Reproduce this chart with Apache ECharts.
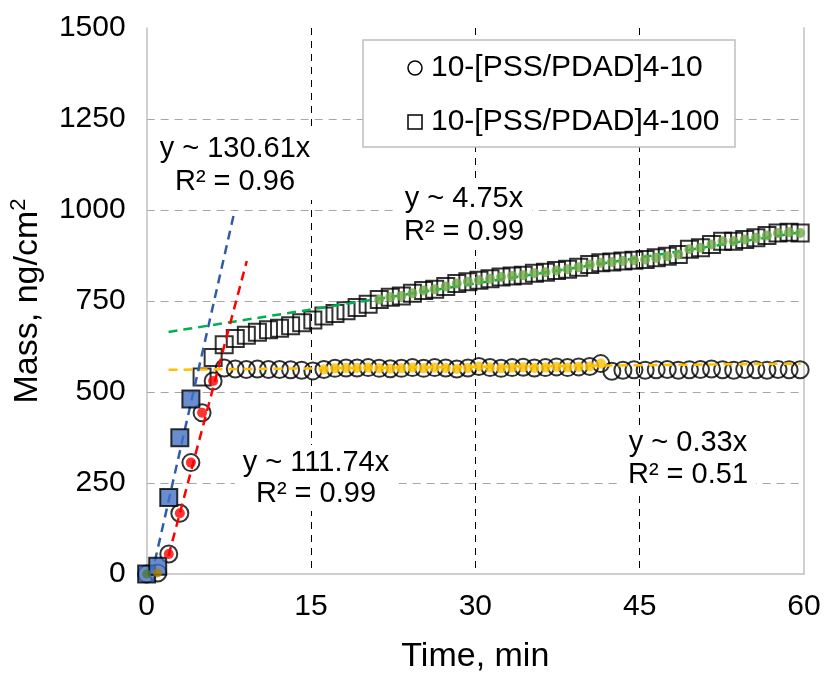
<!DOCTYPE html>
<html>
<head>
<meta charset="utf-8">
<script src="https://cdn.jsdelivr.net/npm/echarts@6/dist/echarts.min.js"></script>
<style>
html,body{margin:0;padding:0;background:#fff;}
#chart{width:825px;height:679px;}
</style>
</head>
<body>
<div id="chart"></div>
<script>
// ---- data ----
const times = [0, 1.01, 2.02, 3.03, 4.04, 5.06, 6.07, 7.08, 8.09, 9.10, 10.11, 11.12, 12.13, 13.14, 14.15, 15.17, 16.18, 17.19, 18.20, 19.21, 20.22, 21.23, 22.24, 23.25, 24.26, 25.28, 26.29, 27.30, 28.31, 29.32, 30.33, 31.34, 32.35, 33.36, 34.37, 35.39, 36.40, 37.41, 38.42, 39.43, 40.44, 41.45, 42.46, 43.47, 44.48, 45.50, 46.51, 47.52, 48.53, 49.54, 50.55, 51.56, 52.57, 53.58, 54.59, 55.61, 56.62, 57.63, 58.64, 59.65];
const mass10 = [0, 3, 55, 167, 306, 443, 530, 566, 563, 562, 563, 562, 562, 561, 560, 558, 562, 565, 566, 566, 567, 565, 564, 565, 567, 565, 567, 566, 563, 566, 570, 567, 565, 567, 568, 566, 567, 569, 567, 569, 570, 578, 557, 560, 561, 560, 561, 562, 560, 561, 562, 563, 561, 560, 562, 561, 560, 562, 561, 561];
const mass100 = [0, 21, 210, 374, 481, 541, 595, 630, 647, 656, 664, 671, 675, 682, 690, 698, 709, 716, 723, 732, 741, 754, 760, 764, 771, 779, 782, 790, 798, 803, 807, 811, 816, 819, 821, 826, 829, 834, 837, 843, 850, 855, 857, 860, 862, 864, 869, 873, 878, 892, 896, 905, 914, 914, 919, 924, 930, 937, 939, 937];
const seriesNames = ['10-[PSS/PDAD]4-10', '10-[PSS/PDAD]4-100'];
// index ranges of the points highlighted for each fit
const redFitRange = [2, 6];      // mass10 initial rise
const yellowFitRange = [16, 41]; // mass10 plateau
const blueFitRange = [0, 4];     // mass100 initial rise
const greenFitRange = [21, 59];  // mass100 slow growth
// fitted trend lines (end points)
const fitBlue = [[0.75, 35], [8.05, 1000]];
const fitRed = [[2.0, 50], [9.14, 860]];
const fitGreen = [[2.0, 665], [59.7, 939]];
const fitYellow = [[2.0, 561], [59.7, 578]];
const startDots = [[0, 0], [1.0, 3]];
const fitLabels = ['y ~ 130.61x\nR² = 0.96', 'y ~ 4.75x\nR² = 0.99', 'y ~ 111.74x\nR² = 0.99', 'y ~ 0.33x\nR² = 0.51'];
const xTicks = {min: 0, max: 60, interval: 15};
const yTicks = {min: 0, max: 1500, interval: 250};

// ---- build ----
const pts = (arr, a, b) => { const out = []; for (let i = a; i <= b; i++) out.push([times[i], arr[i]]); return out; };
const FONT = '"Liberation Sans", Arial, sans-serif';
const chart = echarts.init(document.getElementById('chart'), null, {renderer: 'canvas'});

function dashLine(data, color) {
  return {type: 'line', data: data, showSymbol: false, symbol: 'none', silent: true,
    lineStyle: {color: color, width: 2.5, type: [9, 6]}, z: 3};
}
function dots(data, color, size) {
  return {type: 'scatter', data: data, symbol: 'circle', symbolSize: size || 9, silent: true,
    itemStyle: {color: color, borderWidth: 0}, z: 5};
}
function eqText(text, x, y, lh) {
  return {type: 'text', x: x, y: y, z: 50, style: {text: text, font: '29px ' + FONT, fill: '#000',
    align: 'center', verticalAlign: 'middle', lineHeight: lh, backgroundColor: '#fff', padding: [2, 8]}};
}

const option = {
  animation: false,
  backgroundColor: '#fff',
  grid: {left: 146, right: 21, top: 28, bottom: 103},
  xAxis: {
    type: 'value', min: xTicks.min, max: xTicks.max, interval: xTicks.interval,
    name: 'Time, min', nameLocation: 'middle', nameGap: 66,
    nameTextStyle: {fontFamily: FONT, fontSize: 34, color: '#000'},
    axisLine: {show: true, lineStyle: {color: '#BFBFBF', width: 1.5}},
    axisTick: {show: false},
    axisLabel: {fontFamily: FONT, fontSize: 30, color: '#000', margin: 18},
    splitLine: {show: true, lineStyle: {color: ['rgba(0,0,0,0)', '#000', '#000', '#000', 'rgba(0,0,0,0)'], type: [7, 6], width: 1}}
  },
  yAxis: [{
    type: 'value', min: yTicks.min, max: yTicks.max, interval: yTicks.interval,
    name: 'Mass, ng/cm{sup|2}', nameLocation: 'middle', nameGap: 82,
    nameTextStyle: {fontFamily: FONT, fontSize: 34, color: '#000', lineHeight: 40,
      rich: {sup: {fontFamily: FONT, fontSize: 22, color: '#000', verticalAlign: 'top', lineHeight: 40}}},
    axisLine: {show: true, lineStyle: {color: '#BFBFBF', width: 1.5}},
    axisTick: {show: false},
    axisLabel: {fontFamily: FONT, fontSize: 30, color: '#000', margin: 21, formatter: v => String(v)},
    splitLine: {show: true, lineStyle: {color: ['rgba(0,0,0,0)', '#A6A6A6', '#A6A6A6', '#A6A6A6', '#A6A6A6', '#A6A6A6', 'rgba(0,0,0,0)'], type: [8, 6], width: 1}}
  }, {
    type: 'value', position: 'right', min: yTicks.min, max: yTicks.max, interval: yTicks.interval,
    axisLine: {show: true, lineStyle: {color: '#BFBFBF', width: 1.5}},
    axisTick: {show: false}, axisLabel: {show: false}, splitLine: {show: false}
  }],
  series: [
    {name: seriesNames[0], type: 'scatter', data: pts(mass10, 0, times.length - 1), symbol: 'circle', symbolSize: 17,
      itemStyle: {color: 'rgba(0,0,0,0)', borderColor: '#000', borderWidth: 2}, z: 2, silent: true},
    {name: seriesNames[1], type: 'scatter', data: pts(mass100, blueFitRange[1] + 1, times.length - 1), symbol: 'rect', symbolSize: 17,
      itemStyle: {color: 'rgba(0,0,0,0)', borderColor: '#000', borderWidth: 2}, z: 2, silent: true},
    dashLine(fitYellow, '#FFC000'),
    dashLine(fitGreen, '#00B050'),
    dashLine(fitBlue, '#2F5DAA'),
    dashLine(fitRed, '#FF0000'),
    {type: 'scatter', data: pts(mass100, blueFitRange[0], blueFitRange[1]), symbol: 'rect', symbolSize: 17,
      itemStyle: {color: '#4472C4', borderColor: '#000', borderWidth: 2}, z: 4, silent: true},
    dots(pts(mass10, redFitRange[0], redFitRange[1]), '#FF0000', 10),
    dots(pts(mass10, yellowFitRange[0], yellowFitRange[1]), '#FFC000', 10),
    dots(pts(mass100, greenFitRange[0], greenFitRange[1]), '#70AD47', 10),
    {type: 'scatter', data: [startDots[0]], symbol: 'circle', symbolSize: 9, itemStyle: {color: '#4E7A36'}, z: 6, silent: true},
    {type: 'scatter', data: [startDots[1]], symbol: 'circle', symbolSize: 9, itemStyle: {color: '#A97F00'}, z: 6, silent: true}
  ],
  graphic: [
    eqText(fitLabels[0], 235, 165, 33),
    eqText(fitLabels[1], 464, 215, 33),
    eqText(fitLabels[2], 316, 478, 31),
    eqText(fitLabels[3], 688, 459, 32),
    // legend
    {type: 'rect', z: 60, shape: {x: 363, y: 40, width: 372, height: 107}, style: {fill: '#fff', stroke: '#BFBFBF', lineWidth: 1.5}},
    {type: 'circle', z: 61, shape: {cx: 415, cy: 68, r: 7}, style: {fill: 'none', stroke: '#000', lineWidth: 1.5}},
    {type: 'rect', z: 61, shape: {x: 408, y: 115, width: 14, height: 14}, style: {fill: 'none', stroke: '#000', lineWidth: 1.5}},
    {type: 'text', z: 61, x: 431, y: 68, style: {text: seriesNames[0], font: '30px ' + FONT, fill: '#000', align: 'left', verticalAlign: 'middle'}},
    {type: 'text', z: 61, x: 431, y: 122, style: {text: seriesNames[1], font: '30px ' + FONT, fill: '#000', align: 'left', verticalAlign: 'middle'}}
  ]
};
chart.setOption(option);
</script>
</body>
</html>
